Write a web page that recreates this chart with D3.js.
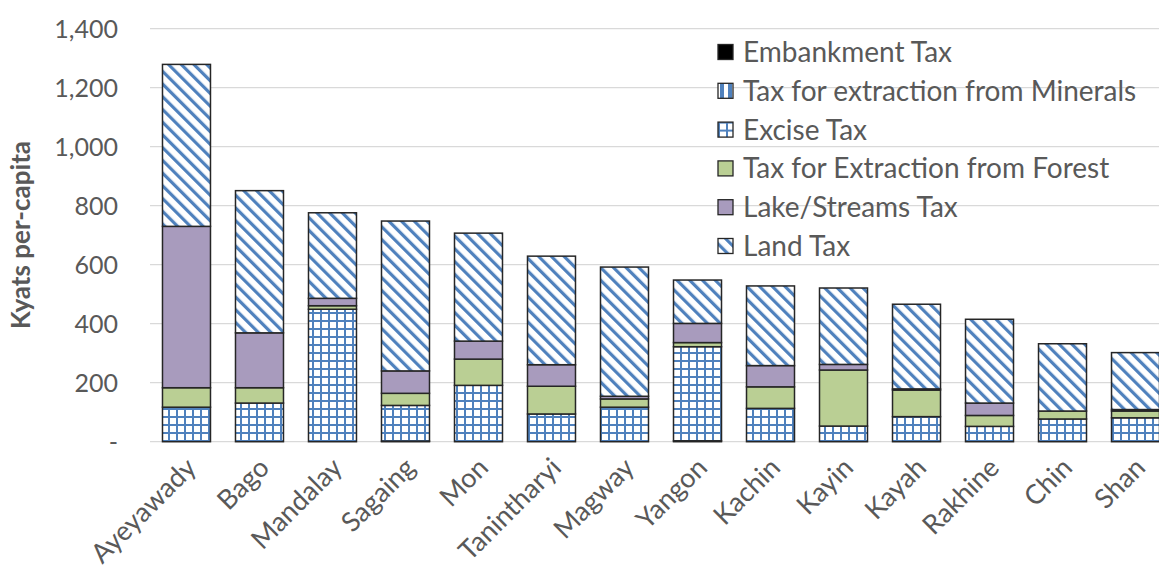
<!DOCTYPE html>
<html>
<head>
<meta charset="utf-8">
<script src="https://cdn.jsdelivr.net/npm/d3@7"></script>
<style>
  body { margin: 0; background: #fff; }
  svg { display: block; font-family: Lato, "Open Sans", sans-serif; }
  .tick-label { fill: #595959; font-size: 25px; }
  .x-label { fill: #595959; font-size: 27px; }
  .legend text { fill: #595959; font-size: 28px; }
</style>
</head>
<body>
<svg id="chart"></svg>
<script>
// regions, ordered by total
var categories = ["Ayeyawady", "Bago", "Mandalay", "Sagaing", "Mon", "Tanintharyi", "Magway",
                  "Yangon", "Kachin", "Kayin", "Kayah", "Rakhine", "Chin", "Shan"];

// kyats per-capita, one list per tax (bottom of stack first)
var embankment = [0, 0, 0, 2, 0, 0, 0, 3, 0, 0, 0, 0, 0, 0];
var minerals   = [0, 0, 0, 0, 0, 0, 0, 0, 0, 0, 0, 0, 0, 0];
var excise     = [117, 131, 449, 121, 191, 94, 117, 319, 113, 53, 85, 52, 77, 81];
var forest     = [66, 52, 12, 41, 89, 94, 28, 14, 73, 190, 90, 37, 27, 23];
var lake       = [547, 186, 25, 76, 61, 73, 9, 65, 72, 19, 4, 42, 0, 5];
var land       = [549, 482, 290, 508, 366, 368, 438, 147, 270, 259, 287, 284, 228, 193];

var yTicks = [0, 200, 400, 600, 800, 1000, 1200, 1400];

var seriesNames = ["Embankment Tax", "Tax for extraction from Minerals", "Excise Tax",
                   "Tax for Extraction from Forest", "Lake/Streams Tax", "Land Tax"];
var seriesValues = [embankment, minerals, excise, forest, lake, land];

var width = 1159,
    height = 570;

var svg = d3.select("#chart")
    .attr("width", width)
    .attr("height", height);

/* ------- PATTERNS -------*/
var blue = "#4f81bd";
var defs = svg.append("defs");

var diag = defs.append("pattern")
    .attr("id", "pat-land")
    .attr("patternUnits", "userSpaceOnUse")
    .attr("width", 9).attr("height", 9)
    .attr("patternTransform", "rotate(-45)");
diag.append("rect").attr("width", 9).attr("height", 9).attr("fill", "#fff");
diag.append("rect").attr("x", 0).attr("width", 3.2).attr("height", 9).attr("fill", blue);

var grid = defs.append("pattern")
    .attr("id", "pat-excise")
    .attr("patternUnits", "userSpaceOnUse")
    .attr("width", 8).attr("height", 8);
grid.append("rect").attr("width", 8).attr("height", 8).attr("fill", "#fff");
grid.append("rect").attr("x", 0).attr("width", 2).attr("height", 8).attr("fill", blue);
grid.append("rect").attr("y", 0).attr("width", 8).attr("height", 2).attr("fill", blue);

var vert = defs.append("pattern")
    .attr("id", "pat-minerals")
    .attr("patternUnits", "userSpaceOnUse")
    .attr("width", 8).attr("height", 8);
vert.append("rect").attr("width", 8).attr("height", 8).attr("fill", "#fff");
vert.append("rect").attr("x", 2).attr("width", 4).attr("height", 8).attr("fill", blue);

var fills = ["#000000", "url(#pat-minerals)", "url(#pat-excise)", "#bacf94", "#a89bbd", "url(#pat-land)"];

/* ------- SCALES -------*/
var x = d3.scaleBand()
    .domain(categories)
    .range([150, 1172])
    .paddingInner(0.3425)
    .paddingOuter(0.171);

var y = d3.scaleLinear()
    .domain([0, 1400])
    .range([441.7, 28.7]);

// gridlines
svg.append("g").attr("class", "grid")
    .selectAll("line")
    .data(yTicks)
    .enter().append("line")
    .attr("x1", 150).attr("x2", 1172)
    .attr("y1", function(d) { return y(d); })
    .attr("y2", function(d) { return y(d); })
    .attr("stroke", "#d9d9d9")
    .attr("stroke-width", 1.3);

// y tick labels
svg.append("g")
    .selectAll("text")
    .data(yTicks)
    .enter().append("text")
    .attr("class", "tick-label")
    .attr("x", 118)
    .attr("y", function(d) { return y(d); })
    .attr("dy", "0.36em")
    .attr("text-anchor", "end")
    .text(function(d) { return d === 0 ? "-" : d3.format(",")(d); });

svg.append("text")
    .attr("transform", "translate(30," + 235 + ") rotate(-90)")
    .attr("text-anchor", "middle")
    .attr("fill", "#595959")
    .attr("font-size", "26px")
    .attr("font-weight", "bold")
    .text("Kyats per-capita");

/* ------- STACKED BARS -------*/
var rows = categories.map(function(c, i) {
    var r = { region: c };
    seriesNames.forEach(function(s, k) { r[s] = seriesValues[k][i]; });
    return r;
});

var stack = d3.stack().keys(seriesNames);
var layers = stack(rows);

svg.append("g").attr("class", "bars")
    .selectAll("g")
    .data(layers)
    .enter().append("g")
    .attr("fill", function(d, i) { return fills[i]; })
    .selectAll("rect")
    .data(function(d) { return d.filter(function(p) { return p[1] - p[0] > 0; }); })
    .enter().append("rect")
    .attr("x", function(d) { return x(d.data.region); })
    .attr("width", x.bandwidth())
    .attr("y", function(d) { return y(d[1]); })
    .attr("height", function(d) { return y(d[0]) - y(d[1]); })
    .attr("stroke", "#262626")
    .attr("stroke-width", 1.5);

// x labels
svg.append("g")
    .selectAll("text")
    .data(categories)
    .enter().append("text")
    .attr("class", "x-label")
    .attr("text-anchor", "end")
    .attr("transform", function(d) {
        return "translate(" + (x(d) + x.bandwidth() / 2 - 3) + ",455) rotate(-45)";
    })
    .attr("dy", "0.75em")
    .text(function(d) { return d; });

/* ------- LEGEND -------*/
var legend = svg.append("g").attr("class", "legend")
    .selectAll("g")
    .data(seriesNames)
    .enter().append("g")
    .attr("transform", function(d, i) { return "translate(718," + (52 + i * 38.8) + ")"; });

legend.append("rect")
    .attr("x", 0).attr("y", -7.5)
    .attr("width", 15).attr("height", 15)
    .attr("fill", function(d, i) { return fills[i]; })
    .attr("stroke", "#262626")
    .attr("stroke-width", 1.3);

legend.append("text")
    .attr("x", 25)
    .attr("dy", "0.36em")
    .text(function(d) { return d; });
</script>
</body>
</html>
